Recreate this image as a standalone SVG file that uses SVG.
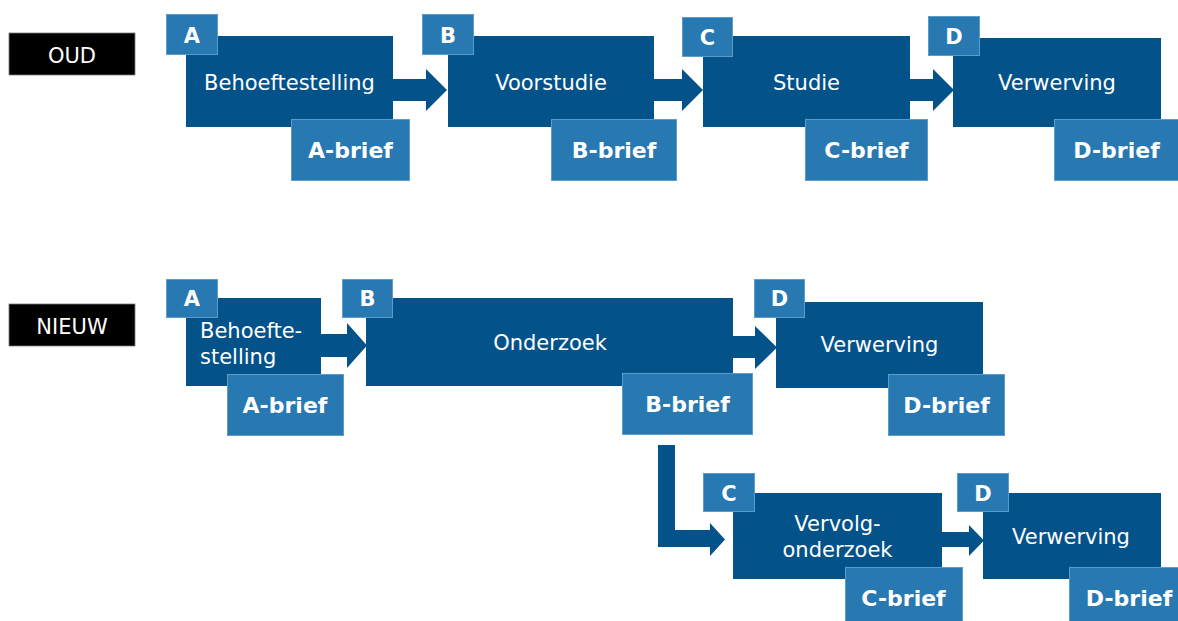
<svg xmlns="http://www.w3.org/2000/svg" width="1178" height="621" viewBox="0 0 1178 621">
<style>
.bg{fill:#ffffff}
.tag{fill:#000000;stroke:#7a7a7a;stroke-width:0.8}
.main{fill:#03528A}
.lt{fill:#2878B1;stroke:#5c9ccb;stroke-width:1}
.arr{fill:#03528A}
text{font-family:"DejaVu Sans",Verdana,sans-serif;fill:#ffffff}
.t{font-size:21px;text-anchor:middle}
.tl{font-size:21px;text-anchor:start}
.b{font-size:22px;font-weight:bold;text-anchor:middle}
.l{font-size:21px;font-weight:bold;text-anchor:middle}
</style>
<rect class="bg" x="0" y="0" width="1178" height="621"/>

<g id="connectors">
  <polygon class="arr" points="393,79 426,79 426,69 447,90 426,111 426,101 393,101"/>
  <polygon class="arr" points="654,79 682,79 682,69 703,90 682,111 682,101 654,101"/>
  <polygon class="arr" points="910,79 933,79 933,69 954,90 933,111 933,101 910,101"/>
  <polygon class="arr" points="321,334 347,334 347,323 367,345.5 347,368 347,357 321,357"/>
  <polygon class="arr" points="733,336 755,336 755,326 777,347.5 755,369 755,358 733,358"/>
  <polygon class="arr" points="658,445 675,445 675,530 710,530 710,523 725,539.5 710,556 710,547 658,547"/>
  <polygon class="arr" points="942,532 969,532 969,525 984,540.5 969,556 969,547 942,547"/>
</g>

<g id="tag-oud">
  <rect class="tag" x="9" y="33" width="126" height="42"/>
  <text class="t" x="72" y="63">OUD</text>
</g>
<g id="tag-nieuw">
  <rect class="tag" x="9" y="304" width="126" height="42"/>
  <text class="t" x="72" y="334">NIEUW</text>
</g>

<!-- OUD row -->
<g id="oud-a">
  <rect class="main" x="186" y="36" width="207" height="91"/>
  <rect class="lt" x="166.5" y="14.5" width="51" height="40"/>
  <text class="l" x="192" y="43">A</text>
  <text class="t" x="289.5" y="90">Behoeftestelling</text>
  <rect class="lt" x="291.5" y="119.5" width="118" height="61"/>
  <text class="b" x="350.5" y="158">A-brief</text>
</g>
<g id="oud-b">
  <rect class="main" x="448" y="36" width="206" height="91"/>
  <rect class="lt" x="422.5" y="14.5" width="51" height="40"/>
  <text class="l" x="448" y="43">B</text>
  <text class="t" x="551" y="90">Voorstudie</text>
  <rect class="lt" x="551.5" y="119.5" width="125" height="61"/>
  <text class="b" x="614" y="158">B-brief</text>
</g>
<g id="oud-c">
  <rect class="main" x="703" y="36" width="207" height="91"/>
  <rect class="lt" x="682.5" y="17.5" width="50" height="39"/>
  <text class="l" x="707.5" y="45">C</text>
  <text class="t" x="806.5" y="90">Studie</text>
  <rect class="lt" x="805.5" y="119.5" width="122" height="61"/>
  <text class="b" x="866.5" y="158">C-brief</text>
</g>
<g id="oud-d">
  <rect class="main" x="953" y="38" width="208" height="89"/>
  <rect class="lt" x="928.5" y="16.5" width="51" height="39"/>
  <text class="l" x="954" y="44">D</text>
  <text class="t" x="1057" y="90">Verwerving</text>
  <rect class="lt" x="1054.5" y="119.5" width="124" height="61"/>
  <text class="b" x="1116.5" y="158">D-brief</text>
</g>

<!-- NIEUW row -->
<g id="nieuw-a">
  <rect class="main" x="186" y="298" width="135" height="88"/>
  <rect class="lt" x="166.5" y="279.5" width="51" height="38"/>
  <text class="l" x="192" y="306">A</text>
  <text class="tl" x="200" y="338">Behoefte-</text>
  <text class="tl" x="200" y="364">stelling</text>
  <rect class="lt" x="227.5" y="374.5" width="116" height="61"/>
  <text class="b" x="285" y="413">A-brief</text>
</g>
<g id="nieuw-b">
  <rect class="main" x="366" y="298" width="367" height="88"/>
  <rect class="lt" x="342.5" y="279.5" width="50" height="38"/>
  <text class="l" x="367.5" y="306">B</text>
  <text class="t" x="550" y="350">Onderzoek</text>
  <rect class="lt" x="622.5" y="373.5" width="130" height="61"/>
  <text class="b" x="687.5" y="412">B-brief</text>
</g>
<g id="nieuw-d1">
  <rect class="main" x="776" y="302" width="207" height="86"/>
  <rect class="lt" x="754.5" y="279.5" width="50" height="38"/>
  <text class="l" x="779.5" y="306">D</text>
  <text class="t" x="879.5" y="352">Verwerving</text>
  <rect class="lt" x="888.5" y="374.5" width="116" height="61"/>
  <text class="b" x="946.5" y="413">D-brief</text>
</g>
<g id="nieuw-c">
  <rect class="main" x="733" y="493" width="209" height="86"/>
  <rect class="lt" x="703.5" y="473.5" width="51" height="38"/>
  <text class="l" x="729" y="501">C</text>
  <text class="t" x="837.5" y="531">Vervolg-</text>
  <text class="t" x="837.5" y="557">onderzoek</text>
  <rect class="lt" x="845.5" y="567.5" width="117" height="55"/>
  <text class="b" x="903.5" y="606">C-brief</text>
</g>
<g id="nieuw-d2">
  <rect class="main" x="983" y="493" width="178" height="86"/>
  <rect class="lt" x="957.5" y="473.5" width="51" height="38"/>
  <text class="l" x="983" y="501">D</text>
  <text class="t" x="1071" y="544">Verwerving</text>
  <rect class="lt" x="1069.5" y="567.5" width="110" height="55"/>
  <text class="b" x="1129" y="606">D-brief</text>
</g>
</svg>
